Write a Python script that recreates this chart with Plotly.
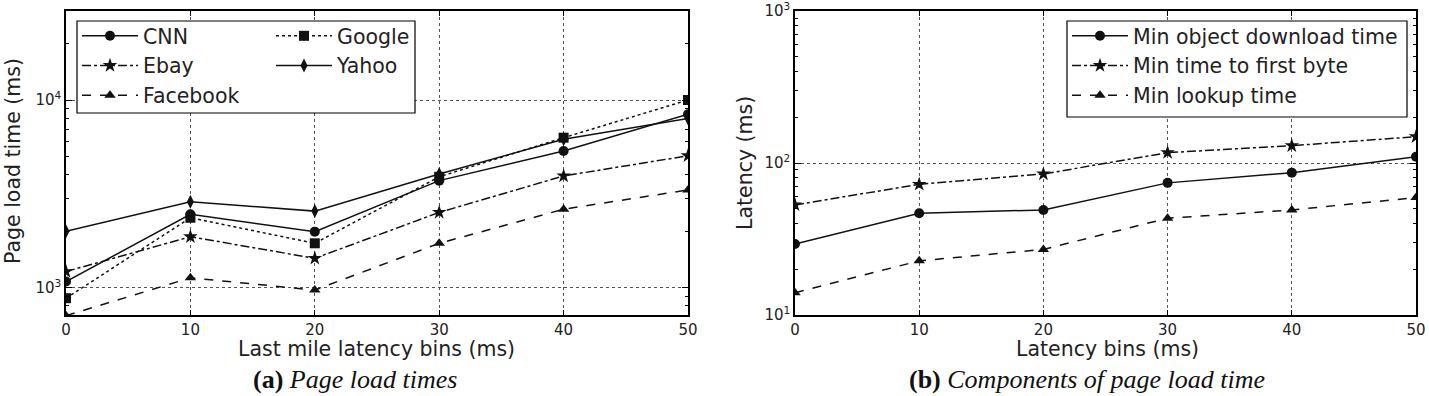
import plotly.graph_objects as go

# ---------------- data ----------------
bins = [0, 10, 20, 30, 40, 50]

cnn = [1080, 2460, 1990, 3720, 5350, 8400]
ebay = [1220, 1870, 1435, 2520, 3940, 5050]
facebook = [710, 1130, 972, 1725, 2620, 3320]
google = [880, 2360, 1725, 3900, 6300, 10000]
yahoo = [2000, 2870, 2560, 4040, 6180, 7980]

min_object = [29.3, 46.7, 49.1, 74, 86.4, 110]
min_ttfb = [53, 72.4, 84.7, 117, 130, 149]
min_lookup = [14.0, 22.7, 27.0, 43.3, 49.1, 59.2]

left_major = [1000, 10000]
left_major_text = ["10<sup>3</sup>", "10<sup>4</sup>"]
right_major = [10, 100, 1000]
right_major_text = ["10<sup>1</sup>", "10<sup>2</sup>", "10<sup>3</sup>"]

# (name, values, marker, dash, legend column)
left_series = [
    ("CNN", cnn, "circle", "solid", "legend"),
    ("Ebay", ebay, "star", "dashdot", "legend"),
    ("Facebook", facebook, "triangle-up", "dash", "legend"),
    ("Google", google, "square", "dot", "legend3"),
    ("Yahoo", yahoo, "diamond-tall", "solid", "legend3"),
]
right_series = [
    ("Min object download time", min_object, "circle", "solid"),
    ("Min time to first byte", min_ttfb, "star", "dashdot"),
    ("Min lookup time", min_lookup, "triangle-up", "dash"),
]

W, H = 1429, 396
FONT = "DejaVu Sans"
LC = "#111111"

fig = go.Figure()
for name, vals, sym, dash, leg in left_series:
    fig.add_trace(go.Scatter(
        x=bins, y=vals, name=name, mode="lines+markers",
        line=dict(color=LC, width=1.5, dash=dash),
        marker=dict(symbol=sym, size=10 if sym != "star" else 11, color=LC),
        xaxis="x", yaxis="y", legend=leg))
for name, vals, sym, dash in right_series:
    fig.add_trace(go.Scatter(
        x=bins, y=vals, name=name, mode="lines+markers",
        line=dict(color=LC, width=1.5, dash=dash),
        marker=dict(symbol=sym, size=10 if sym != "star" else 11, color=LC),
        xaxis="x2", yaxis="y2", legend="legend2"))


def px_x(p):
    return p / W


def px_y(p):
    return 1 - p / H


def minor_vals(lo_exp, hi_exp):
    out = []
    for e in range(lo_exp, hi_exp + 1):
        for m in range(2, 10):
            out.append(m * 10 ** e)
    return out


common_x = dict(
    range=[0, 50], tickvals=bins, ticktext=[str(b) for b in bins],
    showline=True, linecolor="black", linewidth=1.5, mirror="ticks",
    ticks="inside", ticklen=5, tickcolor="black",
    showgrid=True, gridcolor="#555555", griddash="dot", gridwidth=1,
    zeroline=False, tickfont=dict(family=FONT, size=15, color="#222"),
    automargin=False, fixedrange=True,
)
common_y = dict(
    type="log",
    showline=True, linecolor="black", linewidth=1.5, mirror="ticks",
    ticks="inside", ticklen=6, tickcolor="black",
    showgrid=True, gridcolor="#555555", griddash="dot", gridwidth=1,
    zeroline=False, tickfont=dict(family=FONT, size=15, color="#222"),
    automargin=False, fixedrange=True,
)

LEG_FONT = dict(family=FONT, size=20.5, color="#222")
leg_common = dict(
    xanchor="left", yanchor="top", orientation="v",
    bgcolor="rgba(0,0,0,0)", borderwidth=0,
    font=LEG_FONT, itemwidth=56, tracegroupgap=0,
)

fig.update_layout(
    width=W, height=H,
    margin=dict(l=0, r=0, t=0, b=0),
    paper_bgcolor="white", plot_bgcolor="white",
    xaxis=dict(domain=[px_x(66), px_x(688)], anchor="y", **common_x),
    yaxis=dict(domain=[px_y(315), px_y(11)], anchor="x",
               range=[2.855, 4.474],
               tickvals=left_major, ticktext=left_major_text,
               minor=dict(tickmode="array", tickvals=minor_vals(2, 4),
                          ticks="inside", ticklen=3, tickcolor="black", showgrid=False),
               **common_y),
    xaxis2=dict(domain=[px_x(795), px_x(1416)], anchor="y2", **common_x),
    yaxis2=dict(domain=[px_y(315), px_y(11)], anchor="x2",
                range=[0.9995, 3.0005],
                tickvals=right_major, ticktext=right_major_text,
                minor=dict(tickmode="array", tickvals=minor_vals(1, 2),
                           ticks="inside", ticklen=3, tickcolor="black", showgrid=False),
                **common_y),
    legend=dict(x=px_x(77), y=px_y(16), **leg_common),
    legend3=dict(x=px_x(271), y=px_y(16), **leg_common),
    legend2=dict(x=px_x(1067), y=px_y(16), **leg_common),
    showlegend=True,
    shapes=[
        dict(type="rect", xref="paper", yref="paper",
             x0=px_x(77), x1=px_x(415), y0=px_y(113), y1=px_y(21),
             line=dict(color="black", width=1.2), fillcolor="white", layer="above"),
        dict(type="rect", xref="paper", yref="paper",
             x0=px_x(1067), x1=px_x(1407), y0=px_y(117), y1=px_y(21),
             line=dict(color="black", width=1.2), fillcolor="white", layer="above"),
    ],
)

ann_font = dict(family=FONT, size=20.5, color="#222")
cap_font = dict(family="Liberation Serif", size=26, color="#111")
annotations = [
    dict(text="Last mile latency bins (ms)", x=px_x(377), y=px_y(349),
         xref="paper", yref="paper", showarrow=False, font=ann_font,
         xanchor="center", yanchor="middle"),
    dict(text="Latency bins (ms)", x=px_x(1107), y=px_y(349),
         xref="paper", yref="paper", showarrow=False, font=ann_font,
         xanchor="center", yanchor="middle"),
    dict(text="Page load time (ms)", x=px_x(13), y=px_y(161),
         xref="paper", yref="paper", showarrow=False, font=ann_font,
         textangle=-90, xanchor="center", yanchor="middle"),
    dict(text="Latency (ms)", x=px_x(745), y=px_y(163),
         xref="paper", yref="paper", showarrow=False, font=ann_font,
         textangle=-90, xanchor="center", yanchor="middle"),
    dict(text="<b>(a)</b> <i>Page load times</i>", x=px_x(355), y=px_y(379),
         xref="paper", yref="paper", showarrow=False, font=cap_font,
         xanchor="center", yanchor="middle"),
    dict(text="<b>(b)</b> <i>Components of page load time</i>", x=px_x(1087), y=px_y(379),
         xref="paper", yref="paper", showarrow=False, font=cap_font,
         xanchor="center", yanchor="middle"),
]
fig.update_layout(annotations=annotations)

fig.write_html("out.html")
